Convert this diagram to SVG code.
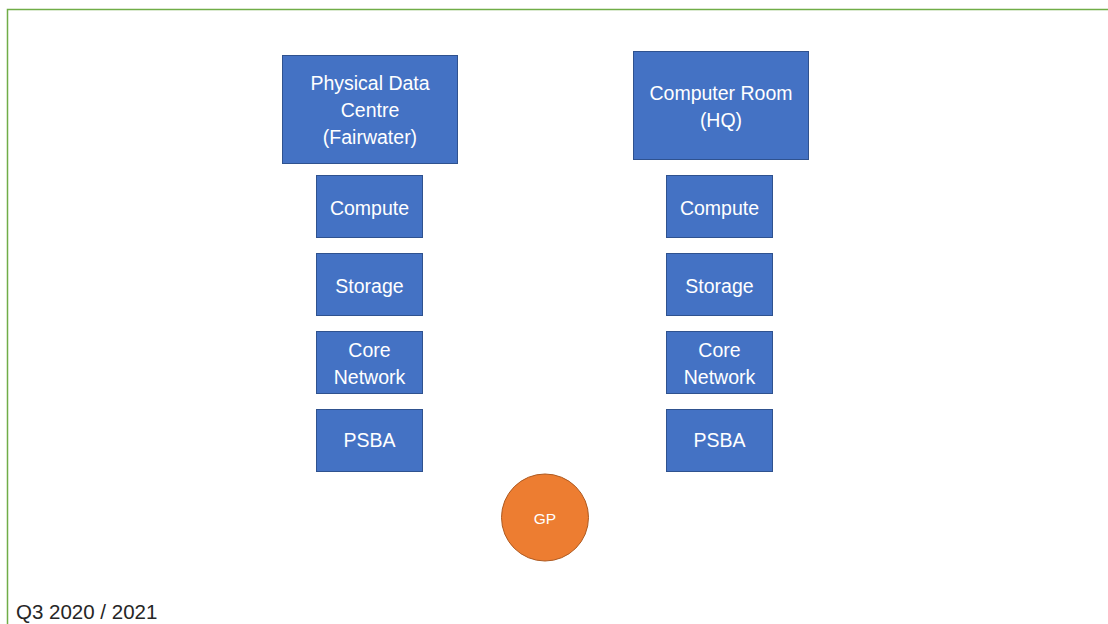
<svg xmlns="http://www.w3.org/2000/svg" width="1108" height="624" viewBox="0 0 1108 624">
<style>
.box{fill:#4472C4;stroke:#2F528F;stroke-width:1}
.t{fill:#ffffff;font-family:"Liberation Sans",Arial,sans-serif;font-size:19.5px;text-anchor:middle}
.frame{fill:none;stroke:#70AD47;stroke-width:1.5}
</style>
<rect width="1108" height="624" fill="#ffffff"/>
<path class="frame" d="M7.5,624 V9.5 H1108"/>
<g id="physical-data-centre">
<rect class="box" x="282.5" y="55.5" width="175" height="108"/>
<text class="t" x="370" y="90">Physical Data</text>
<text class="t" x="370" y="117">Centre</text>
<text class="t" x="370" y="144">(Fairwater)</text>
</g>
<g id="computer-room">
<rect class="box" x="633.5" y="51.5" width="175" height="108"/>
<text class="t" x="721" y="100">Computer Room</text>
<text class="t" x="721" y="127">(HQ)</text>
</g>
<g id="left-compute"><rect class="box" x="316.5" y="175.5" width="106" height="62"/><text class="t" x="369.5" y="215">Compute</text></g>
<g id="left-storage"><rect class="box" x="316.5" y="253.5" width="106" height="62"/><text class="t" x="369.5" y="293">Storage</text></g>
<g id="left-core-network"><rect class="box" x="316.5" y="331.5" width="106" height="62"/><text class="t" x="369.5" y="357">Core</text><text class="t" x="369.5" y="383.5">Network</text></g>
<g id="left-psba"><rect class="box" x="316.5" y="409.5" width="106" height="62"/><text class="t" x="369.5" y="447">PSBA</text></g>
<g id="right-compute"><rect class="box" x="666.5" y="175.5" width="106" height="62"/><text class="t" x="719.5" y="215">Compute</text></g>
<g id="right-storage"><rect class="box" x="666.5" y="253.5" width="106" height="62"/><text class="t" x="719.5" y="293">Storage</text></g>
<g id="right-core-network"><rect class="box" x="666.5" y="331.5" width="106" height="62"/><text class="t" x="719.5" y="357">Core</text><text class="t" x="719.5" y="383.5">Network</text></g>
<g id="right-psba"><rect class="box" x="666.5" y="409.5" width="106" height="62"/><text class="t" x="719.5" y="447">PSBA</text></g>
<g id="gp"><circle cx="545" cy="517.5" r="43.5" fill="#ED7D31" stroke="#AE5A21" stroke-width="1"/><text x="545" y="523.5" fill="#ffffff" font-family="'Liberation Sans',Arial,sans-serif" font-size="15.5" text-anchor="middle">GP</text></g>
<g id="connectors"></g>
<text x="16" y="618.5" fill="#262626" font-family="'Liberation Sans',Arial,sans-serif" font-size="20.5">Q3 2020 / 2021</text>
</svg>
